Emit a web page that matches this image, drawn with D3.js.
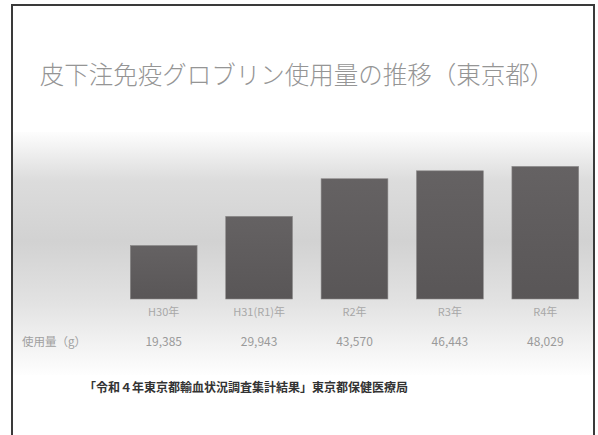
<!DOCTYPE html>
<html>
<head>
<meta charset="utf-8">
<script src="https://cdn.jsdelivr.net/npm/d3@7/dist/d3.min.js"></script>
<style>
  body { margin: 0; background: #fff; }
  svg { display: block; font-family: "Noto Sans CJK JP", "Noto Sans", sans-serif; }
</style>
</head>
<body>
<div id="chart"></div>
<script>
// data
const years = ["H30年", "H31(R1)年", "R2年", "R3年", "R4年"];
const usage = [19385, 29943, 43570, 46443, 48029];
const rowLabel = "使用量（g）";
const title = "皮下注免疫グロブリン使用量の推移（東京都）";
const source = "「令和４年東京都輸血状況調査集計結果」東京都保健医療局";

const width = 598, height = 435;

const svg = d3.select("#chart").append("svg")
  .attr("width", width)
  .attr("height", height);

const defs = svg.append("defs");

// background shading
const bg = defs.append("linearGradient").attr("id", "bg")
  .attr("x1", 0).attr("y1", 0).attr("x2", 0).attr("y2", 1);
bg.append("stop").attr("offset", "0%").attr("stop-color", "#fdfdfd");
bg.append("stop").attr("offset", "20%").attr("stop-color", "#dcdcdc");
bg.append("stop").attr("offset", "45%").attr("stop-color", "#d2d2d2");
bg.append("stop").attr("offset", "70%").attr("stop-color", "#e2e2e2");
bg.append("stop").attr("offset", "100%").attr("stop-color", "#fefefe");

const barGrad = defs.append("linearGradient").attr("id", "barGrad")
  .attr("x1", 0).attr("y1", 0).attr("x2", 0).attr("y2", 1);
barGrad.append("stop").attr("offset", "0%").attr("stop-color", "#656263");
barGrad.append("stop").attr("offset", "100%").attr("stop-color", "#595657");

svg.append("rect")
  .attr("x", 13).attr("y", 132)
  .attr("width", 580).attr("height", 243)
  .attr("fill", "url(#bg)");

// frame
svg.append("path")
  .attr("d", "M12,437 V5 H594 V437")
  .attr("fill", "none")
  .attr("stroke", "#3a3a3a")
  .attr("stroke-width", 2);

// title
svg.append("text")
  .attr("x", 297).attr("y", 84)
  .attr("text-anchor", "middle")
  .attr("fill", "#959595")
  .style("font-size", "24.5px")
  .style("font-weight", 300)
  .text(title);

// scales
const x = d3.scaleBand()
  .domain(years)
  .range([116, 593])
  .paddingInner(0.3)
  .paddingOuter(0.15);

const y = d3.scaleLinear()
  .domain([0, 50000])
  .range([299, 161]);

// bars
svg.selectAll("rect.bar")
  .data(usage)
  .join("rect")
  .attr("class", "bar")
  .attr("x", (d, i) => x(years[i]))
  .attr("y", d => y(d))
  .attr("width", x.bandwidth())
  .attr("height", d => y(0) - y(d))
  .attr("fill", "url(#barGrad)")
  .attr("stroke", "#8a8888")
  .attr("stroke-width", 0.6);

// category labels
svg.selectAll("text.cat")
  .data(years)
  .join("text")
  .attr("class", "cat")
  .attr("x", d => x(d) + x.bandwidth() / 2)
  .attr("y", 316)
  .attr("text-anchor", "middle")
  .attr("fill", "#a8a8a8")
  .style("font-size", "11px")
  .text(d => d);

// value row
svg.append("text")
  .attr("x", 22).attr("y", 346)
  .attr("fill", "#a0a0a0")
  .style("font-size", "11.5px")
  .text(rowLabel);

svg.selectAll("text.val")
  .data(usage)
  .join("text")
  .attr("class", "val")
  .attr("x", (d, i) => x(years[i]) + x.bandwidth() / 2)
  .attr("y", 346)
  .attr("text-anchor", "middle")
  .attr("fill", "#9a9a9a")
  .style("font-size", "12px")
  .text(d => d3.format(",")(d));

// source
svg.append("text")
  .attr("x", 246).attr("y", 392)
  .attr("text-anchor", "middle")
  .attr("fill", "#333")
  .style("font-size", "12px")
  .style("font-weight", "bold")
  .text(source);
</script>
</body>
</html>
